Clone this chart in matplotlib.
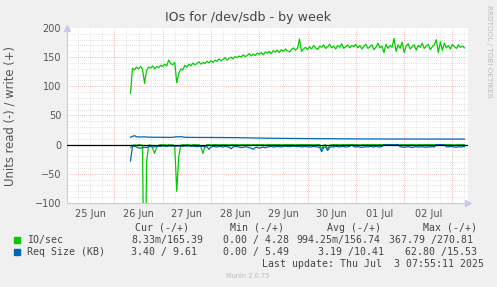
import numpy as np
import matplotlib
matplotlib.use("Agg")
import matplotlib.pyplot as plt
from matplotlib.patches import Rectangle

# hourly samples, first one at 26 Jun 08:00 (hours counted from 25 Jun 00:00)
first_hour = 32

# IO/sec write (+)
io_write = [
    88, 131, 128, 133, 130, 134, 129, 105, 127, 133, 131, 135, 130, 134, 132, 136, 134,
    138, 135, 145, 139, 137, 141, 106, 122, 130, 128, 136, 133, 138, 135, 140, 137, 139, 142, 138, 141, 139, 143, 140, 144,
    141, 145, 143, 147, 144, 146, 149, 145, 148, 150, 147, 151, 149, 152, 150, 154, 151, 153, 156, 152, 155, 153, 157, 155,
    158, 154, 159, 157, 160, 156, 161, 159, 162, 158, 163, 160, 164, 161, 159, 163, 166, 162, 165, 181, 160, 164, 167, 163,
    168, 164, 170, 166, 163, 169, 167, 171, 165, 168, 172, 166, 169, 164, 170, 167, 173, 165, 168, 171, 166, 170, 168, 172,
    166, 170, 164, 169, 172, 165, 168, 171, 163, 167, 174, 166, 169, 158, 172, 165, 170, 167,
    182,
    160, 171, 165, 176, 158, 169, 173, 164, 168, 171, 162, 170, 167, 174, 165, 169, 172, 163, 168, 171,
    180,
    158, 176, 162, 174, 166, 170, 164, 172, 168, 165, 171, 167, 169, 166,
]

# IO/sec read (-)
io_read = [
    5, 1, 0.5, 1, 0, 0.5, 1, 368, 30, 1, 0.5, 6,
    15, 5, 1, 0, 0.5, 0, 1, 0, 0.5, 0, 3, 80,
    20, 1, 0, 0.5, 0, 0, 1, 0, 0, 0.5, 0, 4,
    15, 3, 0, 0, 0.5, 0, 0, 0, 0.5, 0, 0, 0,
    0, 0.5, 0, 0, 0, 0, 0.5, 0, 0, 0, 0, 0,
    0.5, 0, 0, 0, 0, 0, 0, 0.5, 0, 0, 0, 0,
    0, 0, 0, 0.5, 0, 0, 0, 0, 0, 0, 0.5, 0,
    0, 0, 0, 0, 0, 0, 0, 0.5, 0, 0, 0, 8,
    1, 0, 8, 1, 0, 0, 0, 0, 0.5, 0, 0, 0,
    0, 0, 0, 0, 0, 0, 0.5, 0, 0, 0, 0, 0,
    0, 0, 0, 0, 0, 0, 0, 0, 0.5, 0, 0, 0,
    0, 0, 0, 0, 0, 0, 0, 0, 0, 0, 0.5, 0,
    0, 0, 0, 0, 0, 0, 0, 0, 0, 0, 0, 0,
    0, 0, 0, 0, 0, 0.5, 0, 0, 0, 0, 0.01,
]

# Req Size (KB) write (+)
size_write = [
    12.8, 14.2, 15.5, 13.6, 13.4, 13.1, 13.3, 13.5, 13.0, 12.8, 12.9, 12.7,
    12.6, 12.8, 12.7, 12.6, 12.7, 12.5, 12.6, 12.5, 12.6, 12.5, 13.2, 13.6,
    13.4, 13.7, 13.2, 12.7, 12.5, 12.6, 12.4, 12.5, 12.4, 12.5, 12.3, 12.4,
    12.4, 12.3, 12.4, 12.3, 12.3, 12.4, 12.2, 12.3, 12.2, 12.3, 12.2, 12.2,
    12.1, 12.2, 12.1, 12.1, 12.0, 12.1, 11.9, 11.9, 11.8, 11.8, 11.7, 11.6,
    11.6, 11.5, 11.4, 11.4, 11.3, 11.2, 11.2, 11.1, 11.1, 11.0, 11.0, 10.9,
    10.9, 10.9, 10.8, 10.8, 10.8, 10.7, 10.7, 10.7, 10.6, 10.6, 10.6, 10.6,
    10.5, 10.5, 10.5, 10.5, 10.4, 10.4, 10.4, 10.4, 10.3, 10.3, 10.3, 10.3,
    10.2, 10.2, 10.2, 10.2, 10.2, 10.1, 10.1, 10.1, 10.1, 10.1, 10.0, 10.0,
    10.0, 10.0, 10.0, 9.9, 9.9, 9.9, 9.9, 9.9, 9.9, 9.8, 9.8, 9.8,
    9.8, 9.8, 9.8, 9.8, 9.8, 9.7, 9.7, 9.7, 9.7, 9.7, 9.7, 9.7,
    9.7, 9.7, 9.7, 9.7, 9.7, 9.7, 9.6, 9.6, 9.6, 9.6, 9.6, 9.6,
    9.6, 9.6, 9.6, 9.6, 9.6, 9.6, 9.6, 9.6, 9.6, 9.6, 9.6, 9.6,
    9.6, 9.6, 9.6, 9.6, 9.6, 9.6, 9.6, 9.6, 9.6, 9.6, 9.61,
]

# Req Size (KB) read (-)
size_read = [
    28, 3, 2.5, 4, 5.5, 6, 5, 4.5, 5, 3.5, 3, 4,
    3.5, 3, 2.5, 3, 2, 2.5, 3, 2, 2.5, 2, 3, 2.5,
    2, 2.5, 3, 2, 2.5, 2, 3, 2.5, 3, 3.5, 3, 2.5,
    3, 4, 3.5, 8, 4, 3, 3.5, 4, 3, 3.5, 4, 3,
    3.5, 4, 7, 4, 3, 3.5, 4, 5, 4.5, 3.5, 4, 5,
    6, 8, 5, 4.5, 6, 5, 4, 5.5, 4, 3.5, 3, 4,
    3.5, 3, 3.5, 4, 3, 2.5, 3, 3.5, 3, 2.5, 3, 3.5,
    3, 4, 3.5, 3, 4, 3.5, 4, 3, 3.5, 4, 4.5, 12,
    5, 4, 10, 4.5, 3.5, 4, 3, 3.5, 4, 3, 3.5, 4,
    3.5, 3, 0, 3.5, 4, 3.5, 4, 4.5, 4, 3.5, 4, 3,
    3.5, 4, 3, 3.5, 4, 3, 0, 0, 0, 0, 0, 0,
    0, 0, 3.5, 4, 4.5, 4, 3.5, 4, 5, 4, 3.5, 4,
    4, 3.5, 4, 4.5, 3.5, 4, 3.5, 4, 0, 0, 0, 0,
    0, 3.5, 4, 3, 3.5, 4, 4.5, 3.5, 4, 3.5, 3.4,
]

day_labels = ["25 Jun", "26 Jun", "27 Jun", "28 Jun", "29 Jun", "30 Jun", "01 Jul", "02 Jul"]
yticks = [-100, -50, 0, 50, 100, 150, 200]

legend_header = ["Cur (-/+)", "Min (-/+)", "Avg (-/+)", "Max (-/+)"]
legend_rows = [
    ("IO/sec", "#00CC00", ["8.33m/165.39", "0.00 / 4.28", "994.25m/156.74", "367.79 /270.81"]),
    ("Req Size (KB)", "#0066B3", ["3.40 / 9.61", "0.00 / 5.49", "3.19 /10.41", "62.80 /15.53"]),
]
last_update = "Last update: Thu Jul  3 07:55:11 2025"

W, H = 497, 287
fig = plt.figure(figsize=(W / 100, H / 100), dpi=100, facecolor="#F0F0F0")
ax = fig.add_axes([66.7 / W, 1 - 203 / H, 401 / W, 175 / H], facecolor="white")

hours = first_hour + np.arange(len(io_write))
green = "#00CC00"
blue = "#0066B3"
ax.plot(hours, io_write, color=green, lw=0.9, zorder=3)
ax.plot(hours, -np.array(io_read), color=green, lw=0.9, zorder=3)
ax.plot(hours, size_write, color=blue, lw=0.9, zorder=4)
ax.plot(hours, -np.array(size_read), color=blue, lw=0.9, zorder=4)
ax.axhline(0, color="black", lw=0.9, zorder=5)

ax.set_xlim(0.3, 199.6)
ax.set_ylim(-100, 200)

# grid: minor grey every 6 h / 10 units, major red every day / 50 units
for h in range(6, 200, 6):
    c = "#E8A0A0" if h % 24 == 0 else "#D8D8D8"
    ax.axvline(h, color=c, lw=0.6, ls=(0, (1, 1.5)), zorder=1)
for v in range(-90, 200, 10):
    c = "#E8A0A0" if v % 50 == 0 else "#D8D8D8"
    ax.axhline(v, color=c, lw=0.6, ls=(0, (1, 1.5)), zorder=1)

ax.set_xticks([12 + 24 * i for i in range(len(day_labels))])
ax.set_xticklabels(day_labels)
ax.set_yticks(yticks)
ax.tick_params(length=0, labelsize=7, colors="#555555", pad=4)
ax.tick_params(axis="x", pad=4)

for s in ["top", "right"]:
    ax.spines[s].set_visible(False)
for s in ["left", "bottom"]:
    ax.spines[s].set_color("#C8C8F0")
    ax.spines[s].set_linewidth(0.8)
ax.plot([1], [0], marker=">", color="#C8C8F0", ms=4, transform=ax.transAxes, clip_on=False)
ax.plot([0], [1], marker="^", color="#C8C8F0", ms=4, transform=ax.transAxes, clip_on=False)

fig.text(248 / W, 1 - 17 / H, "IOs for /dev/sdb - by week", ha="center", va="center",
         fontsize=9.1, color="#444444")
fig.text(10 / W, 1 - 116 / H, "Units read (-) / write (+)", rotation=90, ha="center",
         va="center", fontsize=8.4, color="#555555")
fig.text(489 / W, 1 - 5 / H, "RRDTOOL / TOBI OETIKER", rotation=270, ha="center",
         va="top", fontsize=5.2, color="#BBBBBB")

mono = dict(family="DejaVu Sans Mono", fontsize=7.1, color="#444444", va="center")
header_x = [135, 230, 327, 422.7]
for x, txt in zip(header_x, legend_header):
    fig.text(x / W, 1 - 227.7 / H, txt, **mono)

cols_x = [[131, 223, 296, 389], [131, 223, 318.3, 405]]
row_y = [240, 252]
for (name, col, vals), y, xs in zip(legend_rows, row_y, cols_x):
    fig.patches.append(Rectangle((14 / W, 1 - (y + 3) / H), 6 / W, 6 / H,
                                 transform=fig.transFigure, color=col))
    fig.text(26.7 / W, 1 - y / H, name, **mono)
    for x, v in zip(xs, vals):
        fig.text(x / W, 1 - y / H, v, **mono)
fig.text(261.7 / W, 1 - 264 / H, last_update, **mono)
fig.text(248 / W, 1 - 276 / H, "Munin 2.0.75", ha="center", va="center",
         fontsize=4.8, color="#BBBBBB")

fig.savefig("out.png", dpi=100, facecolor=fig.get_facecolor())
